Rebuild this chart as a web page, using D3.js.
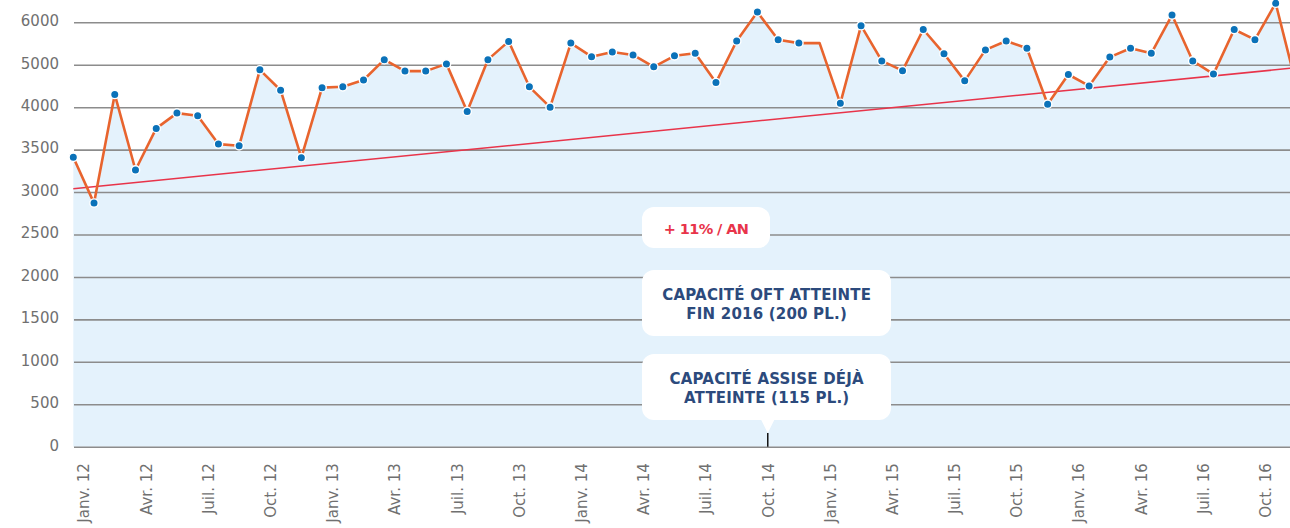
<!DOCTYPE html>
<html>
<head>
<meta charset="utf-8">
<script src="https://cdn.jsdelivr.net/npm/d3@7"></script>
<style>
	body { margin: 0; background: #fff; }
	text { font-family: "DejaVu Sans", sans-serif; }
</style>
</head>
<body>
<svg id="chart" width="1290" height="528"></svg>
<script>
// monthly values, janv. 2012 -> déc. 2016
var values = [
	3410, 2870, 4150, 3260, 3750, 3930, 3900, 3565, 3545, 4440, 4200, 3405,
	4230, 4240, 4320, 4560, 4425, 4425, 4510, 3950, 4560, 4775, 4240, 4000,
	4755, 4595, 4650, 4615, 4475, 4605, 4635, 4290, 4780, 5120, 4795, 4755,
	4755, 4045, 4960, 4545, 4430, 4915, 4630, 4310, 4675, 4780, 4695, 4035,
	4385, 4250, 4590, 4695, 4635, 5085, 4545, 4390, 4915, 4795, 5225, 4255
];
var noMarker = [36];

// linear trend, first and last month
var trend = [3040, 4465];

var xTickLabels = [
	"Janv. 12", "Avr. 12", "Juil. 12", "Oct. 12",
	"Janv. 13", "Avr. 13", "Juil. 13", "Oct. 13",
	"Janv. 14", "Avr. 14", "Juil. 14", "Oct. 14",
	"Janv. 15", "Avr. 15", "Juil. 15", "Oct. 15",
	"Janv. 16", "Avr. 16", "Juil. 16", "Oct. 16"
];
var yTickValues = [0, 500, 1000, 1500, 2000, 2500, 3000, 3500, 4000, 4500, 5000];
// labels as printed on the original chart
var yTickLabels = ["0", "500", "1000", "1500", "2000", "2500", "3000", "3500", "4000", "5000", "6000"];

var growthLabel = ["+ 11% / AN"];
var oftLabel = ["CAPACITÉ OFT ATTEINTE", "FIN 2016 (200 PL.)"];
var assiseLabel = ["CAPACITÉ ASSISE DÉJÀ", "ATTEINTE (115 PL.)"];
var assiseMonth = 33;

var width = 1290, height = 528;
var plotLeft = 74, plotBottom = 446.7, plotTop = 22.3;

var svg = d3.select('#chart');

var x = d3.scaleLinear()
	.domain([0, values.length - 1])
	.range([73.3, 1296.4]);
var step = x(1) - x(0);
var y = d3.scaleLinear()
	.domain([0, 5000])
	.range([plotBottom, plotTop]);

// area
svg.append('path')
	.datum(values)
	.attr('fill', '#e4f2fc')
	.attr('d', d3.area()
		.x((d, i) => x(i))
		.y0(plotBottom)
		.y1(d => y(d)));

// y axis + grid
var yAxis = svg.append('g')
	.attr('transform', `translate(${plotLeft}, 0)`)
	.call(d3.axisLeft(y)
		.tickValues(yTickValues)
		.tickFormat((d, i) => yTickLabels[i])
		.tickSize(-(width - plotLeft))
		.tickPadding(15));
yAxis.select('.domain').remove();
yAxis.selectAll('line')
	.attr('stroke', '#8c8c8c')
	.attr('stroke-width', 1.6);
yAxis.selectAll('text')
	.attr('fill', '#707070')
	.attr('font-size', 15)
	.attr('dy', '0.22em');

// x axis
var xAxis = svg.append('g')
	.attr('transform', `translate(0, ${plotBottom})`)
	.call(d3.axisBottom(x)
		.tickValues(d3.range(0, values.length, 3))
		.tickFormat((d, i) => xTickLabels[i])
		.tickSize(0));
xAxis.select('.domain').remove();
xAxis.selectAll('text')
	.attr('fill', '#707070')
	.attr('font-size', 15)
	.attr('text-anchor', 'end')
	.attr('y', 0)
	.attr('dy', '0.35em')
	.attr('transform', `translate(${step / 2}, 16.5) rotate(-90)`);

// trend
svg.append('line')
	.attr('stroke', '#e8344a')
	.attr('stroke-width', 1.5)
	.attr('x1', x(0))
	.attr('y1', y(trend[0]))
	.attr('x2', x(values.length - 1))
	.attr('y2', y(trend[1]));

// series
svg.append('path')
	.datum(values)
	.attr('fill', 'none')
	.attr('stroke', '#e8642e')
	.attr('stroke-width', 2.6)
	.attr('stroke-linejoin', 'round')
	.attr('d', d3.line()
		.x((d, i) => x(i))
		.y(d => y(d)));

svg.append('g')
	.selectAll('circle')
	.data(values.map((d, i) => ({v: d, i: i})).filter(d => noMarker.indexOf(d.i) < 0))
	.enter()
	.append('circle')
		.attr('cx', d => x(d.i))
		.attr('cy', d => y(d.v))
		.attr('r', 4.2)
		.attr('fill', '#0b72b9')
		.attr('stroke', '#fff')
		.attr('stroke-width', 1.4);

// annotations
function makeBox(bx, by, bw, bh){
	svg.append('rect')
		.attr('x', bx)
		.attr('y', by)
		.attr('width', bw)
		.attr('height', bh)
		.attr('rx', 12)
		.attr('fill', '#fff');
}

function makeText(lines, cx, by, color, size, spacing){
	var t = svg.append('text')
		.attr('text-anchor', 'middle')
		.attr('font-size', size)
		.attr('font-weight', 'bold')
		.attr('letter-spacing', spacing)
		.attr('fill', color);
	lines.forEach(function(l, i){
		t.append('tspan')
			.attr('x', cx)
			.attr('y', by + i * 19.2)
			.text(l);
	});
}

makeBox(642, 207, 128, 41);
makeText(growthLabel, 706, 234, '#e8344a', 14.5, -0.6);

makeBox(642, 270, 249, 66);
makeText(oftLabel, 766.7, 299.5, '#2c4a7c', 15, 0.2);

makeBox(642, 354, 249, 66);
var px = x(assiseMonth) + step / 2;
svg.append('path')
	.attr('fill', '#fff')
	.attr('d', `M${px - 7},419 L${px + 7},419 L${px},433 Z`);
makeText(assiseLabel, 766.7, 384, '#2c4a7c', 15, 0.2);

svg.append('line')
	.attr('stroke', '#111')
	.attr('stroke-width', 1.5)
	.attr('x1', px)
	.attr('x2', px)
	.attr('y1', 433)
	.attr('y2', plotBottom);
</script>
</body>
</html>
